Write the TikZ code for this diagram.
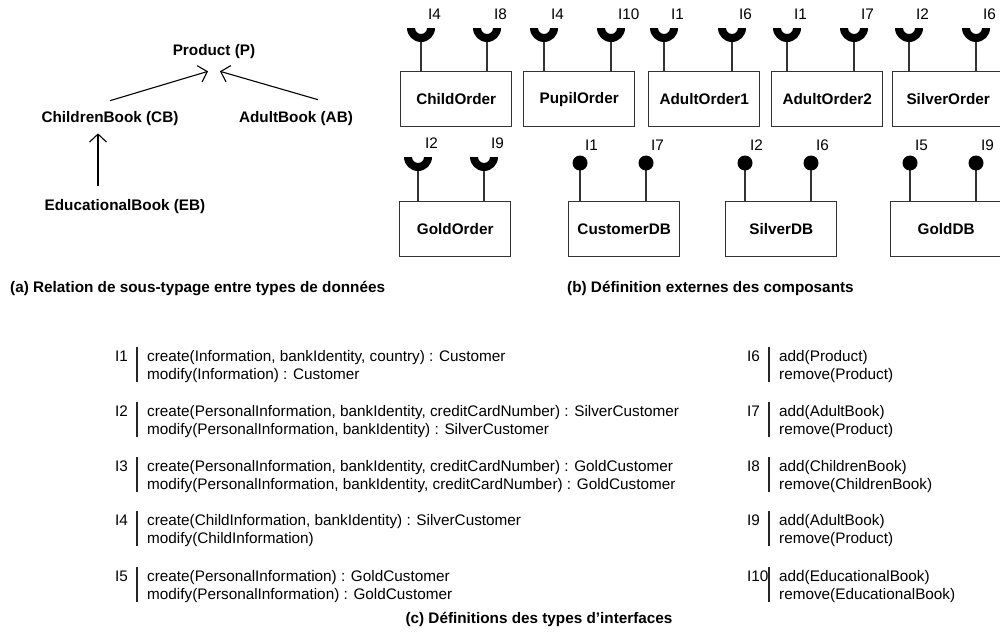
\documentclass[tikz,border=0pt]{standalone}
\usepackage{fontspec}
\setmainfont{Liberation Sans}
\usetikzlibrary{arrows.meta,calc}
\newcommand\reqiface[5]{%
  \coordinate (#1) at (#2,#3);
  \draw[stem] ([yshift=-13pt]#1) -- (#1 |- #4.north);
  \fill ([xshift=-14pt]#1) arc[start angle=180,end angle=360,radius=14pt]
    -- ([xshift=6pt]#1) arc[start angle=360,end angle=180,radius=6pt] -- cycle;
  \node[ilabel] at ([xshift=7pt,yshift=14pt]#1) {#5};
}
\newcommand\proviface[5]{%
  \coordinate (#1) at (#2,#3);
  \draw[stem] (#1) -- (#1 |- #4.north);
  \fill (#1) circle[radius=7.5pt];
  \node[ilabel] at ([xshift=5pt,yshift=18pt]#1) {#5};
}
\newcommand\idef[7]{% name, barx, baseline, label, line1, line2
  \node[anchor=base west] (#1a) at (#2+10,#3) {#5};
  \node[anchor=base west] (#1b) at (#2+10,#3+18) {#6};
  \node[anchor=base west] (#1l) at (#2-22,#3) {#4};
  \draw[bar] (#2,#3-14) -- (#2,#3+21);
}
\begin{document}
\begin{tikzpicture}[x=1pt,y=-1pt,
  every node/.style={font=\fontsize{15.3}{18}\selectfont, inner sep=0pt},
  comp/.style={draw=black!80, line width=1.4pt, minimum width=111pt, minimum height=55pt,
    anchor=north west, font=\fontsize{15.3}{18}\selectfont\bfseries},
  stem/.style={line width=1.3pt, draw=black!80},
  ilabel/.style={anchor=west},
  typ/.style={font=\fontsize{15.3}{18}\selectfont\bfseries},
  sub/.style={-{Straight Barb[length=8pt,width=17pt]}, line width=1.1pt},
  captxt/.style={font=\fontsize{15.3}{18}\selectfont\bfseries, anchor=base west},
  bar/.style={line width=1.1pt, draw=black!85}
]
\useasboundingbox (0,0) rectangle (1000,640);
\clip (0,0) rectangle (1000,640);

% (a) subtyping
\node[typ] (P)  at (214,52)  {Product (P)};
\node[typ] (CB) at (110,119) {ChildrenBook (CB)};
\node[typ] (AB) at (296,119) {AdultBook (AB)};
\node[typ] (EB) at (125,207) {EducationalBook (EB)};
\draw[sub] ($(CB.north)+(0,-11)$) -- ($(P.south)+(-6,12)$);
\draw[sub] ($(AB.north)+(22,-12)$) -- ($(P.south)+(6,12)$);
\draw[sub] ($(EB.north)+(-27,-14)$) -- ($(CB.south)+(-12,7)$);

% (b) components, row 1
\node[comp] (co)  at (400,71) {ChildOrder};
\node[comp] (po)  at (523,71) {PupilOrder};
\node[comp] (ao1) at (648,71) {AdultOrder1};
\node[comp] (ao2) at (771,71) {AdultOrder2};
\node[comp] (so)  at (892,71) {SilverOrder};
\reqiface{co1}{421}{28}{co}{I4}
\reqiface{co2}{487}{28}{co}{I8}
\reqiface{po1}{544}{28}{po}{I4}
\reqiface{po2}{611}{28}{po}{I10}
\reqiface{aa1}{664}{28}{ao1}{I1}
\reqiface{aa2}{732}{28}{ao1}{I6}
\reqiface{ab1}{787}{28}{ao2}{I1}
\reqiface{ab2}{854}{28}{ao2}{I7}
\reqiface{so1}{909}{28}{so}{I2}
\reqiface{so2}{976}{28}{so}{I6}

% row 2
\node[comp] (go)  at (399,201) {GoldOrder};
\node[comp] (cdb) at (568,201) {CustomerDB};
\node[comp] (sdb) at (725,201) {SilverDB};
\node[comp] (gdb) at (890,201) {GoldDB};
\reqiface{go1}{418}{157}{go}{I2}
\reqiface{go2}{484}{157}{go}{I9}
\proviface{cd1}{580}{163}{cdb}{I1}
\proviface{cd2}{646}{163}{cdb}{I7}
\proviface{sd1}{745}{163}{sdb}{I2}
\proviface{sd2}{811}{163}{sdb}{I6}
\proviface{gd1}{910}{163}{gdb}{I5}
\proviface{gd2}{976}{163}{gdb}{I9}

% captions
\node[captxt] (capa) at (10,292)  {(a) Relation de sous-typage entre types de donn\'ees};
\node[captxt] (capb) at (567,292) {(b) D\'efinition externes des composants};

% (c) interface definitions
\idef{d1}{137}{361}{I1}{create(Information, bankIdentity, country) : Customer}{modify(Information) : Customer}{}
\idef{d2}{137}{416}{I2}{create(PersonalInformation, bankIdentity, creditCardNumber) : SilverCustomer}{modify(PersonalInformation, bankIdentity) : SilverCustomer}{}
\idef{d3}{137}{471}{I3}{create(PersonalInformation, bankIdentity, creditCardNumber) : GoldCustomer}{modify(PersonalInformation, bankIdentity, creditCardNumber) : GoldCustomer}{}
\idef{d4}{137}{525}{I4}{create(ChildInformation, bankIdentity) : SilverCustomer}{modify(ChildInformation)}{}
\idef{d5}{137}{581}{I5}{create(PersonalInformation) : GoldCustomer}{modify(PersonalInformation) : GoldCustomer}{}
\idef{d6}{769}{361}{I6}{add(Product)}{remove(Product)}{}
\idef{d7}{769}{416}{I7}{add(AdultBook)}{remove(Product)}{}
\idef{d8}{769}{471}{I8}{add(ChildrenBook)}{remove(ChildrenBook)}{}
\idef{d9}{769}{525}{I9}{add(AdultBook)}{remove(Product)}{}
\idef{d10}{769}{581}{I10}{add(EducationalBook)}{remove(EducationalBook)}{}

\node[captxt, anchor=base] (capc) at (539,623) {(c) D\'efinitions des types d'interfaces};
\end{tikzpicture}
\end{document}
